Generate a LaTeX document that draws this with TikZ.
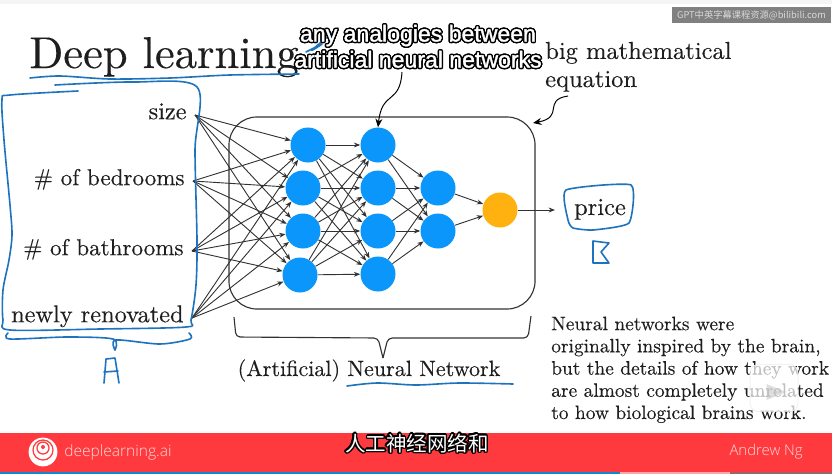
\documentclass[tikz,border=0pt]{standalone}
\usepackage{fontspec}
\usepackage{contour}
\usetikzlibrary{arrows.meta, positioning, calc, backgrounds, shapes.geometric}
\setmainfont{lmroman10-regular}[Extension=.otf, FakeBold=0.25]
\newfontfamily\cjkfont{Noto Sans CJK SC}
\newfontfamily\capfont{Liberation Sans}[FakeBold=1.5]
\newfontfamily\barfont{Open Sans Light}
\contourlength{1pt}
\definecolor{inkblue}{RGB}{30, 115, 190}
\definecolor{unitblue}{RGB}{10, 150, 250}
\definecolor{unitgold}{RGB}{255, 178, 15}
\definecolor{barred}{RGB}{255, 58, 62}
\definecolor{edgecol}{RGB}{50, 50, 50}
\definecolor{textcol}{RGB}{30, 30, 30}
\newcommand{\subtitled}[1]{\contour{black}{\textcolor{white}{#1}}}

\begin{document}
\begin{tikzpicture}[
        x=0.025cm, y=-0.025cm,
        %% Grid: one unit is one pixel of the slide, y runs downward.
        unit/.style={circle, fill=unitblue, minimum size=0.875cm, inner sep=0pt},
        outunit/.style={unit, fill=unitgold},
        inputlabel/.style={anchor=east, inner sep=0pt, outer xsep=6pt, text=textcol, text height=8pt, text depth=2pt, font=\fontsize{16.4}{20}\selectfont},
        widelabel/.style={inputlabel, font=\fontsize{17.3}{20}\selectfont},
        edge/.style={-{Stealth[length=4.5pt, width=3.5pt]}, line width=0.65pt, color=edgecol},
        pointer/.style={-{Stealth[length=6pt, width=5pt]}, line width=0.7pt, color=black},
        ink/.style={color=inkblue, line width=1.15pt, line cap=round, line join=round},
        slidetext/.style={inner sep=0pt, text=textcol, align=left},
        subtitle/.style={inner sep=0pt, align=center, font=\capfont\fontsize{16.4}{18.5}\selectfont}
    ]
    \useasboundingbox (0, 0) rectangle (832, 474);

    %% --- Slide background and bottom bar ---
    \fill[black!4] (0, 0) rectangle (832, 4);
    \fill[barred] (0, 433) rectangle (832, 472);
    \fill[cyan!70!blue] (0, 471.5) rectangle (620, 474);
    \fill[red!35!white] (620, 471.5) rectangle (730, 474);
    \fill[red!20!gray] (730, 471.5) rectangle (832, 474);

    %% --- Input labels ---
    \node[widelabel]  (size)      at (195, 115) {size};
    \node[inputlabel] (bedrooms)  at (193, 181) {\# of bedrooms};
    \node[inputlabel] (bathrooms) at (192, 251) {\# of bathrooms};
    \node[widelabel]  (renovated) at (192, 318) {newly renovated};

    %% --- Network box ---
    \node[draw=edgecol, line width=0.8pt, rectangle, rounded corners=0.7cm, minimum width=7.65cm, minimum height=4.8cm] (netbox) at (382, 213) {};

    %% --- First hidden layer ---
    \node[unit] (a1) at (308, 145) {};
    \node[unit] (a2) at (303, 188) {};
    \node[unit] (a3) at (303, 231) {};
    \node[unit] (a4) at (300, 275) {};

    %% --- Second hidden layer ---
    \node[unit] (b1) at (378, 145) {};
    \node[unit] (b2) at (378, 188) {};
    \node[unit] (b3) at (378, 231) {};
    \node[unit] (b4) at (378, 274) {};

    %% --- Third hidden layer + output ---
    \node[unit] (c1) at (438, 188) {};
    \node[unit] (c2) at (438, 231) {};
    \node[outunit] (out) at (500, 210) {};

    %% --- Price target ---
    \node[slidetext, anchor=base, font=\fontsize{17.4}{20}\selectfont] (price) at (600, 215) {price};
    \coordinate (outend) at (555, 210);

    %% --- Connections between layers ---
    \foreach \src in {size, bedrooms, bathrooms, renovated}
        \foreach \dst in {a1, a2, a3, a4}
            \draw[edge] (\src.east) -- (\dst);
    \foreach \src in {a1, a2, a3, a4}
        \foreach \dst in {b1, b2, b3, b4}
            \draw[edge] (\src) -- (\dst);
    \foreach \src in {b1, b2, b3, b4}
        \foreach \dst in {c1, c2}
            \draw[edge] (\src) -- (\dst);
    \draw[edge] (c1) -- (out);
    \draw[edge] (c2) -- (out);
    \draw[edge] (out) -- (outend);

    %% --- Title and side text ---
    \node[slidetext, anchor=base west, font=\fontsize{31.7}{36}\selectfont] (title) at (29, 68) {Deep learning};
    \node[slidetext, anchor=base west, font=\fontsize{17.4}{20}\selectfont] (eqn) at (545, 87) {big mathematical\\equation};
    \node[slidetext, anchor=base, font=\fontsize{15.7}{20}\selectfont] (nnlabel) at (369, 376) {(Artificial) Neural Network};
    \node[slidetext, anchor=base west, font=\fontsize{13.8}{15.8}\selectfont] (note) at (551, 419) {Neural networks were\\originally inspired by the brain,\\but the details of how they work\\are almost completely unrelated\\to how biological brains work.};

    %% --- Bottom brace ---
    \draw[edgecol, line width=0.8pt, rounded corners=3pt] (234, 317) -- (236, 337) -- (378, 338) -- (383, 358);
    \draw[edgecol, line width=0.8pt, rounded corners=3pt] (383, 358) -- (388, 338) -- (528, 338) -- (531, 316);

    %% --- Curved pointers ---
    \coordinate (analogyfrom) at (402, 72);
    \coordinate (eqnfrom) at (568, 96);
    \coordinate (boxcorner) at (533, 123);
    \draw[pointer] (analogyfrom) .. controls (400, 105) and (382, 90) .. (b1.north);
    \draw[pointer] (eqnfrom) .. controls (542, 100) and (565, 117) .. (boxcorner);

    %% --- Pen strokes ---
    \draw[ink] plot[smooth] coordinates {(30, 78) (60, 76) (110, 79) (170, 78) (230, 75) (299, 74)};
    \draw[ink] plot[smooth] coordinates {(55, 85) (133, 82) (197, 87) (195, 150) (197, 240) (196, 285) (191, 320) (186, 327) (100, 329) (10, 330) (3, 320) (3, 290) (9, 260) (12, 235) (10, 205) (4, 140) (2, 100) (10, 95) (78, 91)};
    \draw[ink] plot[smooth] coordinates {(8, 333) (10, 339) (67, 337) (113, 339) (115, 350)};
    \draw[ink] plot[smooth] coordinates {(115, 350) (116, 340) (160, 344) (190, 339) (189, 333)};
    \draw[ink] (104, 383) -- (106, 359) -- (115, 358) -- (119, 383);
    \draw[ink] (104, 372) -- (118, 371);
    \draw[ink] plot[smooth cycle, tension=0.3] coordinates {(566, 190) (631, 185) (629, 223) (593, 230) (573, 228) (568, 220)};
    \draw[ink] (593, 241) -- (593, 263) -- (609, 263) -- (601, 252) -- (609, 243) -- cycle;
    \draw[ink] plot[smooth] coordinates {(347, 386) (377, 383) (416, 385) (459, 383) (513, 384)};
    \draw[ink] plot[smooth] coordinates {(306, 52) (322, 44) (312, 50) (338, 28)};

    %% --- Play overlay ---
    \node[rectangle, rounded corners=6pt, fill=white, fill opacity=0.72, draw=black!8, minimum width=1.2cm, minimum height=1.18cm] (playbtn) at (774, 388) {};
    \node[isosceles triangle, fill=black!25, fill opacity=0.5, minimum size=0.4cm, inner sep=0pt] (playtri) at (772, 392) {};

    %% --- Burned-in captions ---
    \node[subtitle] (analogy) at (418, 47) {\subtitled{any analogies between}\\\subtitled{artificial neural networks}};
    \node[inner sep=0pt, font=\cjkfont\fontsize{14.6}{17}\selectfont] (cncap) at (417, 444) {\subtitled{人工神经网络和}};

    %% --- Watermark ---
    \node[rectangle, fill=black!50, minimum width=3.97cm, minimum height=0.4cm, inner sep=0pt, text=white!85!black, font=\cjkfont\fontsize{6.6}{8}\selectfont] (mark) at (751.5, 15) {GPT中英字幕课程资源@bilibili.com};

    %% --- Footer logo and names ---
    \node[circle, fill=white, minimum size=0.72cm, inner sep=0pt] (logo) at (43, 452) {};
    \node[circle, draw=barred, line width=0.9pt, minimum size=0.5cm, inner sep=0pt] (logoring) at (43, 450) {};
    \node[circle, draw=barred, line width=0.9pt, minimum size=0.3cm, inner sep=0pt] (logomid) at (43, 448) {};
    \node[circle, fill=barred, minimum size=0.1cm, inner sep=0pt] (logocore) at (43, 447) {};
    \node[anchor=west, inner sep=0pt, text=white!85!red, font=\barfont\fontsize{11.05}{14}\selectfont] (brand) at (64, 452) {deeplearning.ai};
    \node[anchor=east, inner sep=0pt, text=white!85!red, font=\barfont\fontsize{10.6}{14}\selectfont] (author) at (803, 452) {Andrew Ng};
\end{tikzpicture}
\end{document}
